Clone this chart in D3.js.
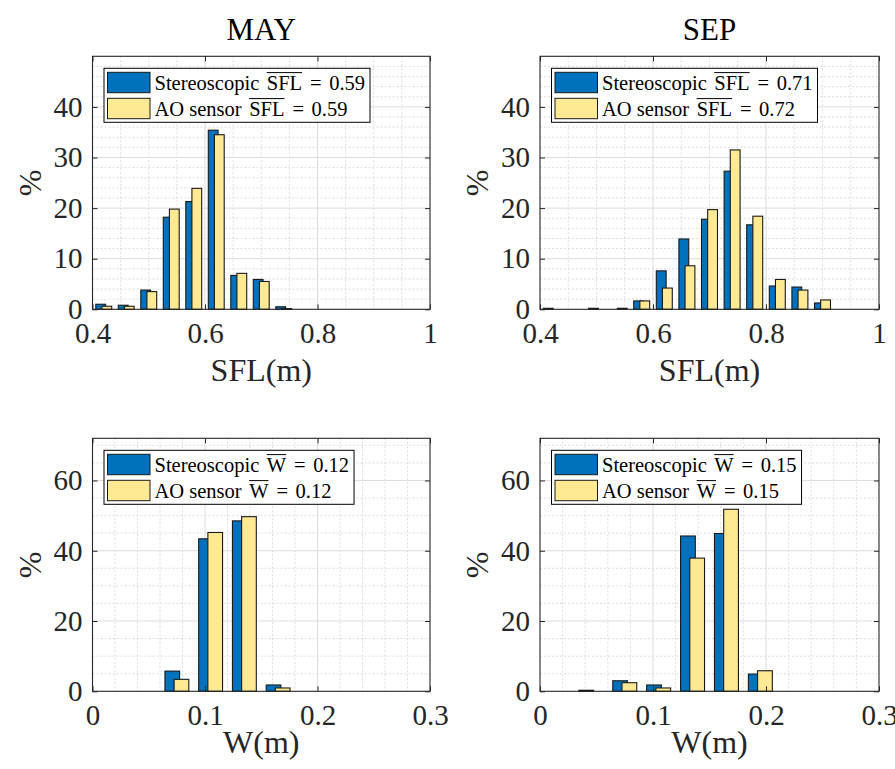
<!DOCTYPE html>
<html>
<head>
<meta charset="utf-8">
<script src="https://cdn.jsdelivr.net/npm/d3@7"></script>
<style>
  html, body { margin: 0; padding: 0; background: #fff; }
  svg { display: block; }
</style>
</head>
<body>
<svg id="chart" width="895" height="769" font-family="'Liberation Serif', 'Times New Roman', serif"></svg>
<script>
// ---------------- data ----------------
const sflBins = [0.42, 0.46, 0.50, 0.54, 0.58, 0.62, 0.66, 0.70, 0.74, 0.78, 0.82, 0.86, 0.90, 0.94, 0.98];
const sflMayStereo = [1.0, 0.8, 3.8, 18.2, 21.3, 35.4, 6.7, 5.9, 0.5, 0, 0, 0, 0, 0, 0];
const sflMayAO     = [0.6, 0.6, 3.5, 19.8, 23.9, 34.5, 7.1, 5.5, 0.15, 0, 0, 0, 0, 0, 0];
const sflSepStereo = [0.2, 0, 0.2, 0, 1.65, 7.6, 13.9, 17.8, 27.3, 16.7, 4.6, 4.4, 1.25, 0, 0];
const sflSepAO     = [0, 0, 0, 0.2, 1.65, 4.2, 8.6, 19.7, 31.5, 18.4, 5.9, 3.8, 1.85, 0, 0];

const wBins = [0.015, 0.045, 0.075, 0.105, 0.135, 0.165, 0.195, 0.225, 0.255, 0.285];
const wMayStereo = [0, 0, 5.75, 43.4, 48.5, 1.8, 0, 0, 0, 0];
const wMayAO     = [0, 0, 3.4, 45.2, 49.7, 0.95, 0, 0, 0, 0];
const wSepStereo = [0, 0.3, 3.0, 1.8, 44.2, 44.9, 4.9, 0, 0, 0];
const wSepAO     = [0, 0, 2.45, 0.95, 37.9, 51.8, 5.85, 0, 0, 0];

const seriesNames = ["Stereoscopic", "AO sensor"];
const seriesColors = ["#0072BD", "#FFE992"];
const titles = ["MAY", "SEP"];
const meanSfl = [["0.59", "0.59"], ["0.71", "0.72"]];
const meanW   = [["0.12", "0.12"], ["0.15", "0.15"]];

const sflTicks = [0.4, 0.6, 0.8, 1];
const sflTickLabels = ["0.4", "0.6", "0.8", "1"];
const wTicks = [0, 0.1, 0.2, 0.3];
const wTickLabels = ["0", "0.1", "0.2", "0.3"];
const pctTicksTop = [0, 10, 20, 30, 40];
const pctTicksBottom = [0, 20, 40, 60];

// ---------------- layout ----------------
const FONT = "'Liberation Serif', 'Times New Roman', serif";
const svg = d3.select("#chart");
const cols = [{x0: 92.5, x1: 430}, {x0: 540, x1: 879}];
const rows = [
  {y0: 56.3, y1: 309.3, xDomain: [0.4, 1], yMax: 50, binW: 0.04, xMinorStep: 0.05, yMinorStep: 2,
   xTicks: sflTicks, xLabels: sflTickLabels, yTicks: pctTicksTop, varName: "SFL", xTitle: "SFL(m)",
   bins: sflBins, data: [[sflMayStereo, sflMayAO], [sflSepStereo, sflSepAO]], means: meanSfl, xTitleOff: 71.4},
  {y0: 438.3, y1: 691.3, xDomain: [0, 0.3], yMax: 72, binW: 0.03, xMinorStep: 0.02, yMinorStep: 5,
   xTicks: wTicks, xLabels: wTickLabels, yTicks: pctTicksBottom, varName: "W", xTitle: "W(m)",
   bins: wBins, data: [[wMayStereo, wMayAO], [wSepStereo, wSepAO]], means: meanW, xTitleOff: 61.5}
];

const axisColor = "#262626";
const tickFont = 29;

rows.forEach((row, ri) => {
  cols.forEach((col, ci) => {
    const x = d3.scaleLinear().domain(row.xDomain).range([col.x0, col.x1]);
    const y = d3.scaleLinear().domain([0, row.yMax]).range([row.y1, row.y0]);
    const g = svg.append("g");

    // minor grid
    const xMinor = d3.range(row.xDomain[0], row.xDomain[1] + 1e-9, row.xMinorStep)
      .filter(v => !row.xTicks.some(t => Math.abs(t - v) < 1e-9));
    const yMinor = d3.range(0, row.yMax + 1e-9, row.yMinorStep)
      .filter(v => !row.yTicks.some(t => Math.abs(t - v) < 1e-9) && v > 0 && v < row.yMax);
    g.selectAll(".xminor").data(xMinor).join("line")
      .attr("x1", d => x(d)).attr("x2", d => x(d)).attr("y1", row.y0).attr("y2", row.y1)
      .attr("stroke", "#d4d4d4").attr("stroke-width", 0.8).attr("stroke-dasharray", "2,2");
    g.selectAll(".yminor").data(yMinor).join("line")
      .attr("x1", col.x0).attr("x2", col.x1).attr("y1", d => y(d)).attr("y2", d => y(d))
      .attr("stroke", "#d4d4d4").attr("stroke-width", 0.8).attr("stroke-dasharray", "2,2");
    // major grid
    g.selectAll(".xmajor").data(row.xTicks.filter((t, i) => i > 0 && i < row.xTicks.length - 1)).join("line")
      .attr("x1", d => x(d)).attr("x2", d => x(d)).attr("y1", row.y0).attr("y2", row.y1)
      .attr("stroke", "#dcdcdc").attr("stroke-width", 1);
    g.selectAll(".ymajor").data(row.yTicks.filter(t => t > 0)).join("line")
      .attr("x1", col.x0).attr("x2", col.x1).attr("y1", d => y(d)).attr("y2", d => y(d))
      .attr("stroke", "#dcdcdc").attr("stroke-width", 1);

    // bars
    const barW = 0.435 * row.binW;
    const offs = [-0.136 * row.binW, 0.136 * row.binW];
    const pxW = x(row.xDomain[0] + barW) - x(row.xDomain[0]);
    row.data[ci].forEach((vals, si) => {
      g.selectAll(".bar" + si).data(row.bins.map((b, i) => ({b, v: vals[i]})).filter(d => d.v > 0))
        .join("rect")
        .attr("x", d => x(d.b + offs[si]) - pxW / 2)
        .attr("width", pxW)
        .attr("y", d => y(d.v))
        .attr("height", d => y(0) - y(d.v))
        .attr("fill", seriesColors[si])
        .attr("stroke", "#1a1a1a").attr("stroke-width", 1.1);
    });

    // axes (ticks inside)
    const xa = g.append("g").attr("transform", `translate(0,${row.y1})`)
      .call(d3.axisBottom(x).tickValues(row.xTicks).tickSize(-5).tickPadding(13.5)
        .tickFormat((d, i) => row.xLabels[i]));
    const ya = g.append("g").attr("transform", `translate(${col.x0},0)`)
      .call(d3.axisLeft(y).tickValues(row.yTicks).tickSize(-5).tickPadding(10).tickFormat(d3.format("d")));
    const xt = g.append("g").attr("transform", `translate(0,${row.y0})`)
      .call(d3.axisTop(x).tickValues(row.xTicks).tickSize(-5).tickFormat(""));
    const yr = g.append("g").attr("transform", `translate(${col.x1},0)`)
      .call(d3.axisRight(y).tickValues(row.yTicks).tickSize(-5).tickFormat(""));
    [xa, ya, xt, yr].forEach(a => {
      a.attr("font-family", FONT).attr("font-size", tickFont);
      a.select(".domain").remove();
      a.selectAll(".tick line").attr("stroke", axisColor).attr("stroke-width", 1);
      a.selectAll(".tick text").attr("fill", axisColor);
    });

    // frame
    g.append("rect").attr("x", col.x0).attr("y", row.y0)
      .attr("width", col.x1 - col.x0).attr("height", row.y1 - row.y0)
      .attr("fill", "none").attr("stroke", axisColor).attr("stroke-width", 1.1);

    // axis titles
    g.append("text").attr("x", (col.x0 + col.x1) / 2).attr("y", row.y1 + row.xTitleOff)
      .attr("text-anchor", "middle").attr("font-size", 32).attr("fill", axisColor).text(row.xTitle);
    g.append("text").attr("transform", `translate(${col.x0 - 52},${(row.y0 + row.y1) / 2}) rotate(-90)`)
      .attr("text-anchor", "middle").attr("font-size", 32).attr("fill", axisColor).text("%");

    if (ri === 0) {
      g.append("text").attr("x", (col.x0 + col.x1) / 2).attr("y", 40)
        .attr("text-anchor", "middle").attr("font-size", 31).attr("fill", "#000").text(titles[ci]);
    }

    // legend
    const lg = g.append("g").attr("transform", `translate(${col.x0 + 11.5},${row.y0 + 12})`);
    const box = lg.append("rect").attr("x", 0).attr("y", 0).attr("height", 54)
      .attr("fill", "#fff").attr("stroke", "#000").attr("stroke-width", 1);
    let maxEnd = 0;
    seriesNames.forEach((name, si) => {
      const ry = si * 26;
      const base = 21.3 + ry;
      lg.append("rect").attr("x", 3.5).attr("y", 4 + ry).attr("width", 42.5).attr("height", 20.4)
        .attr("fill", seriesColors[si]).attr("stroke", "#1a1a1a").attr("stroke-width", 1);
      const t = lg.append("text").attr("x", 50.5).attr("y", base)
        .attr("font-size", 20.5).attr("fill", "#000");
      t.append("tspan").text(name);
      t.append("tspan").attr("dx", 7.5).text(row.varName);
      t.append("tspan").attr("dx", 8).text("=");
      t.append("tspan").attr("dx", 7.5).text(row.means[ci][si]);
      // overline over the variable name (LaTeX \overline)
      const node = t.node();
      const i0 = name.length, i1 = name.length + row.varName.length - 1;
      const ox0 = node.getStartPositionOfChar(i0).x;
      const ox1 = node.getEndPositionOfChar(i1).x;
      lg.append("line").attr("x1", ox0).attr("x2", ox1)
        .attr("y1", base - 17).attr("y2", base - 17)
        .attr("stroke", "#000").attr("stroke-width", 1);
      const bb = node.getBBox();
      maxEnd = Math.max(maxEnd, bb.x + bb.width);
    });
    box.attr("width", maxEnd + 5);
  });
});
svg.selectAll("text").style("font-family", FONT);
</script>
</body>
</html>
